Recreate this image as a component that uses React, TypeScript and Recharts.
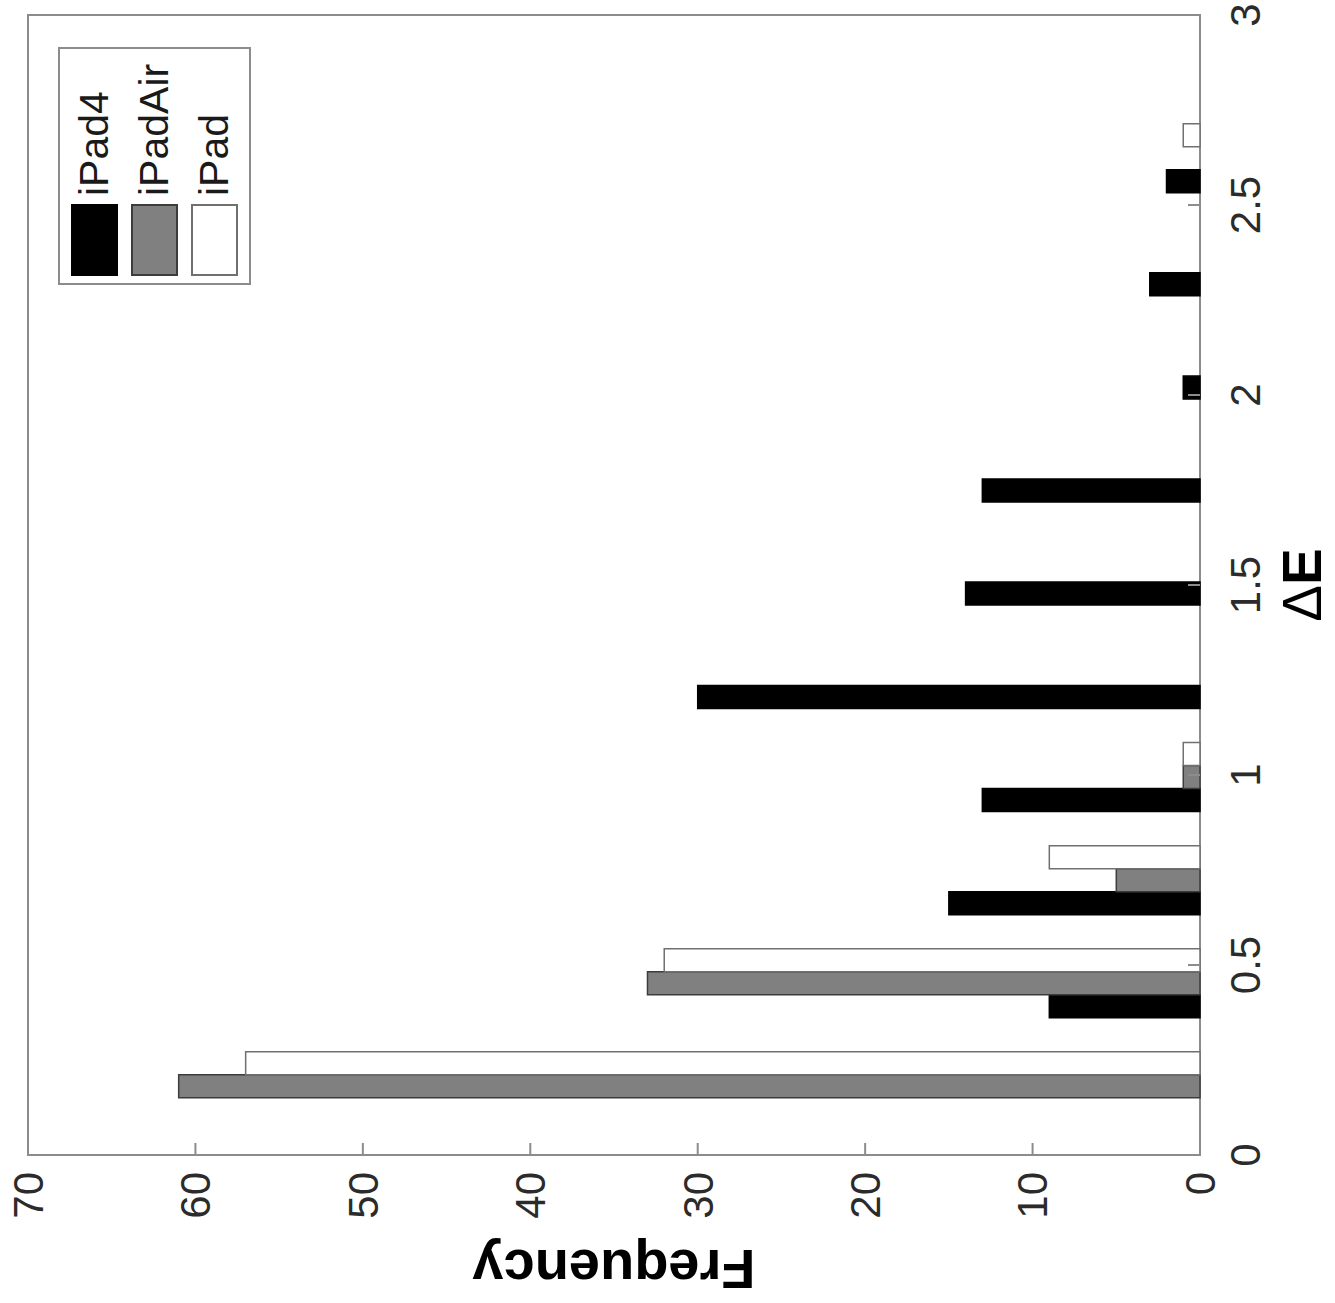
import { Bar, BarChart, Label, Legend, ReferenceArea, XAxis, YAxis } from "recharts";

// bin centres (ΔE) and counts per device
const deltaE = [0.181, 0.452, 0.723, 0.995, 1.266, 1.538, 1.809, 2.08, 2.352, 2.623];
const iPad4 = [0, 9, 15, 13, 30, 14, 13, 1, 3, 2];
const iPadAir = [61, 33, 5, 1, 0, 0, 0, 0, 0, 0];
const iPad = [57, 32, 9, 1, 0, 0, 0, 0, 0, 1];
const deltaETicks = [0, 0.5, 1, 1.5, 2, 2.5, 3];
const freqTicks = [0, 10, 20, 30, 40, 50, 60, 70];

const data = deltaE.map((x, i) => ({
  x,
  iPad4: iPad4[i],
  iPadAir: iPadAir[i],
  iPad: iPad[i],
}));

const series = [
  { key: "iPad4", fill: "#000000", stroke: "#000000" },
  { key: "iPadAir", fill: "#808080", stroke: "#3c3c3c" },
  { key: "iPad", fill: "#ffffff", stroke: "#707070" },
];

const font = "'Liberation Sans', Arial, Helvetica, sans-serif";
const frame = "#8c8c8c";

function LegendBox() {
  return (
    <div
      style={{
        border: `2px solid ${frame}`,
        background: "#fff",
        boxSizing: "border-box",
        width: 238,
        height: 193,
        padding: "11px 0 0 7px",
        fontFamily: font,
      }}
    >
      {series.map((s, i) => (
        <div
          key={s.key}
          style={{ display: "flex", alignItems: "center", height: 47, marginTop: i ? 13 : 0 }}
        >
          <div
            style={{
              width: 72,
              height: 47,
              boxSizing: "border-box",
              background: s.fill,
              border: `2px solid ${s.stroke}`,
            }}
          />
          <span style={{ marginLeft: 8, fontSize: 41, lineHeight: 1, color: "#1a1a1a" }}>{s.key}</span>
        </div>
      ))}
    </div>
  );
}

function DeltaELabel(props: any) {
  const vb = props.viewBox;
  return (
    <text
      x={vb.x + vb.width / 2}
      y={vb.y + vb.height - 14}
      textAnchor="middle"
      fontSize={55}
      fontFamily={font}
      fill="#000"
    >
      <tspan>Δ</tspan>
      <tspan fontWeight="bold">E</tspan>
    </text>
  );
}

export default function App() {
  // the figure is drawn upright and turned a quarter turn counter-clockwise
  return (
    <div
      style={{
        position: "absolute",
        left: 0,
        top: 0,
        width: 1335,
        height: 1303,
        overflow: "hidden",
        background: "#fff",
      }}
    >
      <div
        style={{
          position: "absolute",
          left: 0,
          top: 0,
          width: 1303,
          height: 1335,
          transformOrigin: "0 0",
          transform: "translateY(1303px) rotate(-90deg)",
          fontFamily: font,
        }}
      >
        <BarChart
          width={1303}
          height={1335}
          data={data}
          margin={{ top: 28, right: 15, left: 8, bottom: 0 }}
          barGap={0}
          barSize={23}
        >
          <XAxis
            dataKey="x"
            type="number"
            domain={[0, 3]}
            ticks={deltaETicks}
            interval={0}
            allowDataOverflow
            height={135}
            axisLine={false}
            tickSize={-12}
            tickMargin={42}
            tickLine={{ stroke: frame, strokeWidth: 2 }}
            tick={{ fill: "#2b2b2b", fontSize: 42, fontFamily: font }}
          >
            <Label content={<DeltaELabel />} />
          </XAxis>
          <YAxis
            domain={[0, 70]}
            ticks={freqTicks}
            interval={0}
            width={140}
            axisLine={false}
            tickSize={-12}
            tickMargin={29}
            tickLine={{ stroke: frame, strokeWidth: 2 }}
            tick={{ fill: "#2b2b2b", fontSize: 42, fontFamily: font }}
          >
            <Label
              value="Frequency"
              angle={-90}
              position="insideLeft"
              offset={25}
              style={{ textAnchor: "middle", fontSize: 56, fontWeight: "bold", fill: "#000", fontFamily: font }}
            />
          </YAxis>
          <ReferenceArea x1={0} x2={3} y1={0} y2={70} fill="none" stroke={frame} strokeWidth={2} />
          {series.map((s) => (
            <Bar
              key={s.key}
              dataKey={s.key}
              name={s.key}
              fill={s.fill}
              stroke={s.stroke}
              strokeWidth={1.5}
              isAnimationActive={false}
            />
          ))}
          <Legend
            layout="vertical"
            align="center"
            verticalAlign="middle"
            content={<LegendBox />}
            wrapperStyle={{ left: 1018, top: 58, width: 238, height: 193 }}
          />
        </BarChart>
      </div>
    </div>
  );
}
